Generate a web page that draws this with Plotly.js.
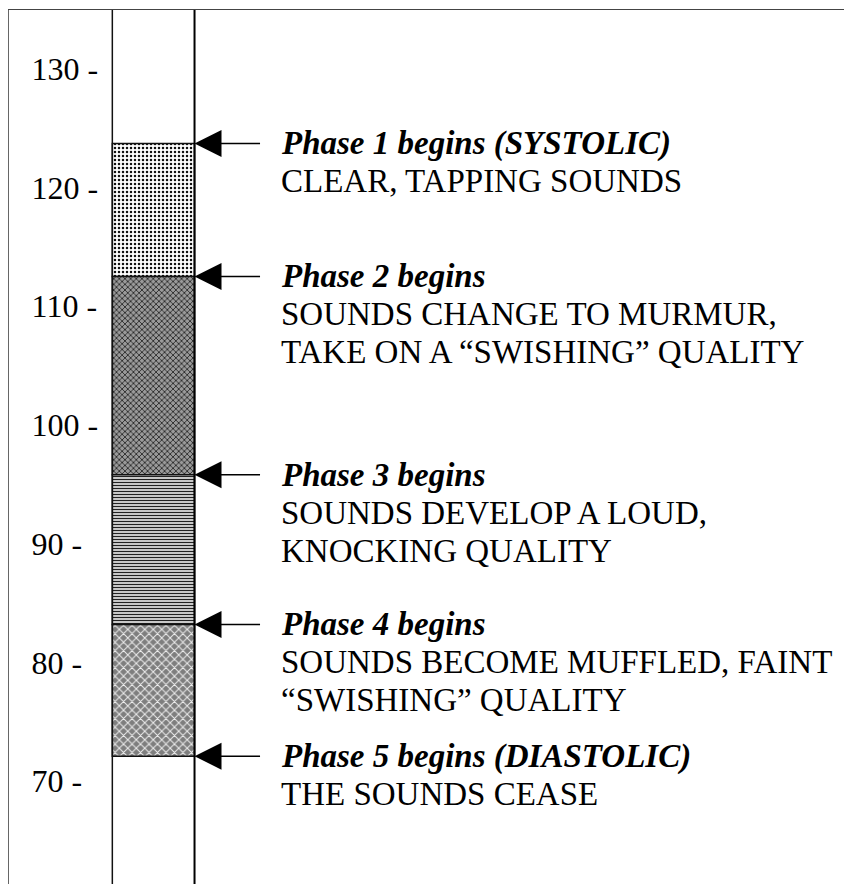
<!DOCTYPE html>
<html>
<head>
<meta charset="utf-8">
<script src="https://cdn.plot.ly/plotly-3.0.1.min.js"></script>
<style>
  html, body { margin: 0; padding: 0; background: #fff; }
  #chart { width: 844px; height: 884px; }
</style>
</head>
<body>
<div id="chart"></div>
<script>
// ---- data ----
const phaseStart = [123.7, 112.5, 95.8, 83.2, 72.1];   // mmHg where each phase begins
const phaseTitles = [
  "Phase 1 begins (SYSTOLIC)",
  "Phase 2 begins",
  "Phase 3 begins",
  "Phase 4 begins",
  "Phase 5 begins (DIASTOLIC)"
];
const phaseDesc = [
  ["CLEAR, TAPPING SOUNDS"],
  ["SOUNDS CHANGE TO MURMUR,", "TAKE ON A \u201CSWISHING\u201D QUALITY"],
  ["SOUNDS DEVELOP A LOUD,", "KNOCKING QUALITY"],
  ["SOUNDS BECOME MUFFLED, FAINT", "\u201CSWISHING\u201D QUALITY"],
  ["THE SOUNDS CEASE"]
];
const tickVals = [70, 80, 90, 100, 110, 120, 130];
const tickText = ["70 -", "80 -", "90 -", "100 -", "110 -", "120 -", "130 -"];
const column = "BP";

// ---- fill styles for the four sounding phases ----
const bandStyles = [
  { shape: ".", fgcolor: "#111111", bgcolor: "#ffffff", size: 4, solidity: 0.3 },
  { shape: "x", fgcolor: "#2a2a2a", bgcolor: "#9a9a9a", size: 4, solidity: 0.4 },
  { shape: "-", fgcolor: "#222222", bgcolor: "#ffffff", size: 3, solidity: 0.5 },
  { shape: "x", fgcolor: "#eeeeee", bgcolor: "#7e7e7e", size: 6, solidity: 0.3 }
];

const FONT = "Liberation Serif";

const traces = [];
for (let k = 0; k < 4; k++) {
  const st = bandStyles[k];
  traces.push({
    type: "bar",
    x: [column],
    y: [phaseStart[k] - phaseStart[k + 1]],
    base: [phaseStart[k + 1]],
    width: 1,
    hoverinfo: "skip",
    showlegend: false,
    marker: {
      color: st.bgcolor,
      line: { color: "#111", width: 1.5 },
      pattern: {
        shape: st.shape,
        fgcolor: st.fgcolor,
        bgcolor: st.bgcolor,
        size: st.size,
        solidity: st.solidity,
        fillmode: "replace"
      }
    }
  });
}

const annotations = [];
const LINE = 38;
const TEXT_X = 0.3228;
for (let k = 0; k < phaseStart.length; k++) {
  annotations.push({
    xref: "x", yref: "y",
    x: 0.5, y: phaseStart[k],
    text: "",
    showarrow: true,
    ax: 67, ay: 0,
    arrowhead: 2, arrowsize: 3.6, arrowwidth: 1.5,
    arrowcolor: "#000", standoff: 0
  });
  annotations.push({
    xref: "paper", yref: "y",
    x: TEXT_X, y: phaseStart[k],
    xanchor: "left", yanchor: "middle",
    text: "<b><i>" + phaseTitles[k] + "</i></b>",
    showarrow: false,
    font: { family: FONT, size: 33, color: "#000" }
  });
  phaseDesc[k].forEach((line, i) => {
    annotations.push({
      xref: "paper", yref: "y",
      x: TEXT_X, y: phaseStart[k],
      xanchor: "left", yanchor: "middle",
      text: line,
      showarrow: false,
      font: { family: FONT, size: 33, color: "#000" },
      yshift: -LINE * (i + 1)
    });
  });
}

const layout = {
  width: 844, height: 884,
  margin: { l: 9, r: 0, t: 10, b: 0, pad: 0 },
  paper_bgcolor: "#fff",
  plot_bgcolor: "#fff",
  bargap: 0,
  barmode: "overlay",
  font: { family: FONT },
  xaxis: {
    type: "category",
    range: [-1.757, 8.401],
    side: "top",
    showline: true, linecolor: "#444", linewidth: 1.5,
    showticklabels: false, ticks: "", showgrid: false, zeroline: false,
    fixedrange: true
  },
  yaxis: {
    range: [61.34, 134.94],
    tickvals: tickVals,
    ticktext: tickText,
    ticks: "",
    ticklabelposition: "inside",
    ticklabelstandoff: 26,
    tickfont: { family: FONT, size: 32, color: "#000" },
    showline: true, linecolor: "#666", linewidth: 1,
    showgrid: false, zeroline: false,
    fixedrange: true
  },
  shapes: [
    { type: "line", xref: "x", yref: "paper", x0: -0.5, x1: -0.5, y0: 0, y1: 1,
      line: { color: "#111", width: 1.5 } },
    { type: "line", xref: "x", yref: "paper", x0: 0.5, x1: 0.5, y0: 0, y1: 1,
      line: { color: "#000", width: 2 } }
  ],
  annotations: annotations
};

Plotly.newPlot("chart", traces, layout, { displayModeBar: false, staticPlot: true });
</script>
</body>
</html>
